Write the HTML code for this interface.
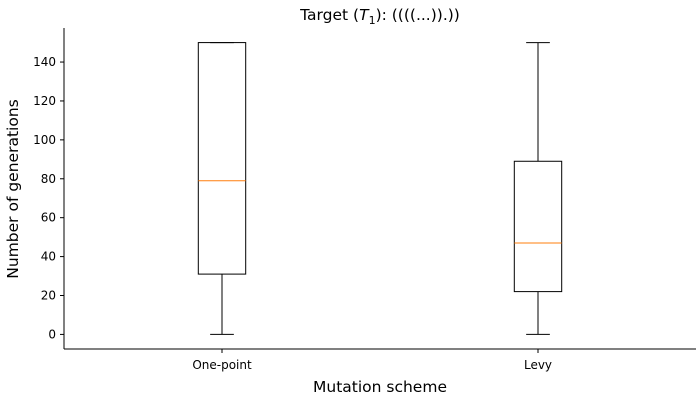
<!DOCTYPE html>
<html><head><meta charset="utf-8"><style>
body{margin:0;background:#fff;}
svg{display:block;font-family:"DejaVu Sans","Liberation Sans",sans-serif;}
</style></head><body>
<svg id="chart" width="700" height="400">
<text x="380" y="20" text-anchor="middle" font-size="15.5">Target (<tspan font-style="italic">T</tspan><tspan font-size="11" dy="4">1</tspan><tspan dy="-4">): ((((...)).))</tspan></text>
<g id="plot"></g>
<text x="380" y="392" text-anchor="middle" font-size="15.5">Mutation scheme</text>
<text transform="translate(18,189) rotate(-90)" text-anchor="middle" font-size="15.5">Number of generations</text>
</svg>
<script>
const categories=["One-point","Levy"];
const whiskerLow=[0,0];
const q1=[31,22];
const medians=[79,47];
const q3=[150,89];
const whiskerHigh=[150,150];
const yTicks=[0,20,40,60,80,100,120,140];

const L=64,R=696,T=28,B=349;
const yMin=-7.5,yMax=157.5;
const y=v=>B-(v-yMin)/(yMax-yMin)*(B-T);
const x=i=>L+((i+1)-0.5)/2*(R-L);
const bw=0.15/2*(R-L);
const NS="http://www.w3.org/2000/svg";
const g=document.getElementById('plot');
function mk(tag,attrs){const e=document.createElementNS(NS,tag);for(const k in attrs)e.setAttribute(k,attrs[k]);g.appendChild(e);return e;}
let e;
e=mk('line',{x1:L,y1:T,x2:L,y2:B,stroke:'#000','stroke-width':1});


e=mk('line',{x1:L,y1:B,x2:R,y2:B,stroke:'#000','stroke-width':1});


yTicks.forEach(t=>{
 const yy=y(t);
 e=mk('line',{x1:L-4,y1:yy,x2:L,y2:yy,stroke:'#000'});
 
 
 e=mk('text',{x:L-8,y:yy+4,'text-anchor':'end','font-size':12});
 e.textContent=t;
 
 
});
categories.forEach((c,i)=>{
 const cx=x(i);
 e=mk('line',{x1:cx,y1:B,x2:cx,y2:B+4,stroke:'#000'});
 
 
 e=mk('text',{x:cx,y:B+20,'text-anchor':'middle','font-size':12});
 e.textContent=c;
 
 
 e=mk('line',{x1:cx,y1:y(whiskerLow[i]),x2:cx,y2:y(q1[i]),stroke:'#000'});
 
 
 e=mk('line',{x1:cx,y1:y(whiskerHigh[i]),x2:cx,y2:y(q3[i]),stroke:'#000'});
 
 
 e=mk('line',{x1:cx-bw/4,y1:y(whiskerLow[i]),x2:cx+bw/4,y2:y(whiskerLow[i]),stroke:'#000'});
 
 
 e=mk('line',{x1:cx-bw/4,y1:y(whiskerHigh[i]),x2:cx+bw/4,y2:y(whiskerHigh[i]),stroke:'#000'});
 
 
 e=mk('rect',{x:cx-bw/2,y:y(q3[i]),width:bw,height:y(q1[i])-y(q3[i]),fill:'none',stroke:'#000'});
 
 
 e=mk('line',{x1:cx-bw/2,y1:y(medians[i]),x2:cx+bw/2,y2:y(medians[i]),stroke:'#ff7f0e'});
 
 
});
</script>
</body></html>
